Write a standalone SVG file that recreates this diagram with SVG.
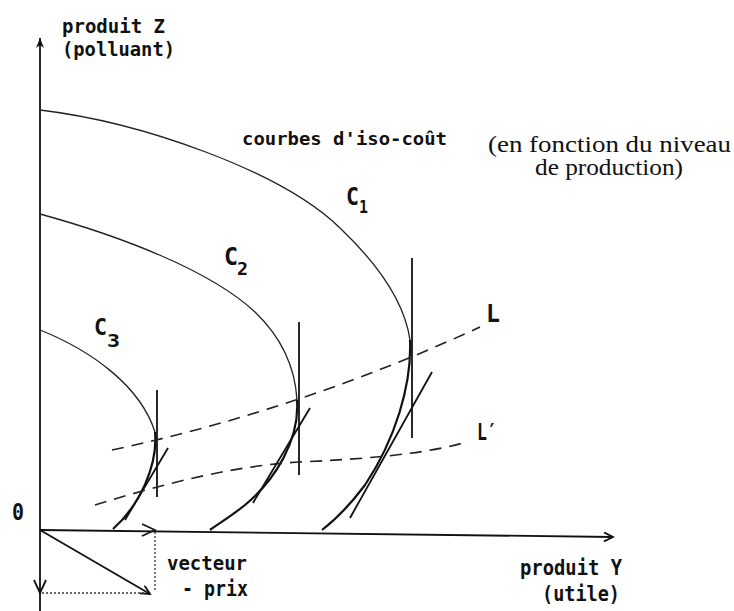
<svg xmlns="http://www.w3.org/2000/svg" width="734" height="611" viewBox="0 0 734 611">
<style>
.bg{fill:#fff}
.ax{stroke:#111;stroke-width:1.8;fill:none}
.cv{stroke:#222;stroke-width:1.3;fill:none}
.cvb{stroke:#111;stroke-width:2.2;fill:none}
.tl{stroke:#111;stroke-width:1.8;fill:none}
.ds{stroke:#222;stroke-width:1.6;fill:none;stroke-dasharray:12 8}
.dt{stroke:#333;stroke-width:1.3;fill:none;stroke-dasharray:2 2}
.tw{font-family:"DejaVu Sans Mono","Liberation Mono",monospace;font-weight:bold;fill:#111}
.sf{font-family:"Liberation Serif","Times New Roman",serif;fill:#111}
</style>
<defs>
<marker id="open" markerWidth="12" markerHeight="12" refX="10" refY="5" orient="auto" markerUnits="userSpaceOnUse">
<path d="M1,0.5 L10,5 L1,9.5" fill="none" stroke="#111" stroke-width="1.8"/>
</marker>
<marker id="tip" markerWidth="12" markerHeight="12" refX="10" refY="4" orient="auto" markerUnits="userSpaceOnUse">
<path d="M0,0 L10,4 L0,8 L3,4 Z" fill="#111"/>
</marker>
</defs>
<rect class="bg" x="0" y="0" width="734" height="611"/>

<g id="axes">
<line class="ax" x1="40" y1="611" x2="40" y2="38" marker-end="url(#tip)"/>
<line class="ax" x1="40" y1="530" x2="613" y2="537" marker-end="url(#open)"/>
</g>

<g id="curve-C1">
<path class="cv" d="M40,110 C140,122 280,170 340,228 C380,266 405,305 410,340"/>
<path class="cvb" d="M410,340 C412,385 395,440 365,485 C350,505 335,520 322,530"/>
<line class="tl" x1="412" y1="258" x2="412" y2="438"/>
<line class="tl" x1="432" y1="372" x2="350" y2="518"/>
<text class="tw" x="346" y="205" font-size="24" textLength="13" lengthAdjust="spacingAndGlyphs">C</text>
<text class="tw" x="359" y="213" font-size="17" textLength="9" lengthAdjust="spacingAndGlyphs">1</text>
</g>

<g id="curve-C2">
<path class="cv" d="M40,214 C120,236 210,270 255,312 C280,336 295,365 297,400"/>
<path class="cvb" d="M297,400 C300,440 275,480 245,505 C230,517 218,524 210,530"/>
<line class="tl" x1="299" y1="322" x2="299" y2="475"/>
<line class="tl" x1="310" y1="408" x2="253" y2="503"/>
<text class="tw" x="224" y="265" font-size="24" textLength="14" lengthAdjust="spacingAndGlyphs">C</text>
<text class="tw" x="237" y="275" font-size="17" textLength="11" lengthAdjust="spacingAndGlyphs">2</text>
</g>

<g id="curve-C3">
<path class="cv" d="M40,330 C90,350 140,385 155,432"/>
<path class="cvb" d="M155,432 C158,465 140,505 113,529"/>
<line class="tl" x1="157" y1="390" x2="157" y2="497"/>
<line class="tl" x1="168" y1="448" x2="125" y2="520"/>
<text class="tw" x="94" y="335" font-size="23" textLength="13" lengthAdjust="spacingAndGlyphs">C</text>
<text class="tw" x="107" y="347" font-size="18" textLength="13" lengthAdjust="spacingAndGlyphs">3</text>
</g>

<g id="line-L">
<path class="ds" d="M112,450 Q300,410 480,327"/>
<text class="tw" x="486" y="322" font-size="24" textLength="14" lengthAdjust="spacingAndGlyphs">L</text>
</g>

<g id="line-Lprime">
<path class="ds" d="M95,505 C160,485 230,466 300,462 C360,459 420,455 463,443"/>
<text class="tw" x="477" y="440" font-size="23" textLength="20" lengthAdjust="spacingAndGlyphs">L′</text>
</g>

<g id="price-vector">
<line class="ax" x1="40" y1="530" x2="150" y2="594" marker-end="url(#open)"/>
<line class="dt" x1="155" y1="532" x2="155" y2="592"/>
<line class="dt" x1="42" y1="593" x2="146" y2="593"/>
<path d="M142,524 L155,530 L142,536" fill="none" stroke="#111" stroke-width="1.6"/>
<path d="M34,580 L40,593 L46,580" fill="none" stroke="#111" stroke-width="1.8"/>
<text class="tw" x="167" y="570" font-size="19" textLength="80" lengthAdjust="spacingAndGlyphs">vecteur</text>
<text class="tw" x="182" y="596" font-size="22" textLength="66" lengthAdjust="spacingAndGlyphs">- prix</text>
</g>

<g id="labels">
<text class="tw" x="62" y="33" font-size="20" textLength="103" lengthAdjust="spacingAndGlyphs">produit Z</text>
<text class="tw" x="62" y="56" font-size="20" textLength="113" lengthAdjust="spacingAndGlyphs">(polluant)</text>
<text class="tw" x="12" y="520" font-size="23" textLength="12" lengthAdjust="spacingAndGlyphs">0</text>
<text class="tw" x="520" y="575" font-size="21" textLength="102" lengthAdjust="spacingAndGlyphs">produit Y</text>
<text class="tw" x="542" y="601" font-size="21" textLength="78" lengthAdjust="spacingAndGlyphs">(utile)</text>
<text class="tw" x="242" y="145" font-size="18" textLength="205" lengthAdjust="spacingAndGlyphs">courbes d'iso-coût</text>
<text class="sf" x="488" y="152" font-size="23" textLength="243" lengthAdjust="spacingAndGlyphs">(en fonction du niveau</text>
<text class="sf" x="535" y="175" font-size="23" textLength="148" lengthAdjust="spacingAndGlyphs">de production)</text>
</g>
</svg>
